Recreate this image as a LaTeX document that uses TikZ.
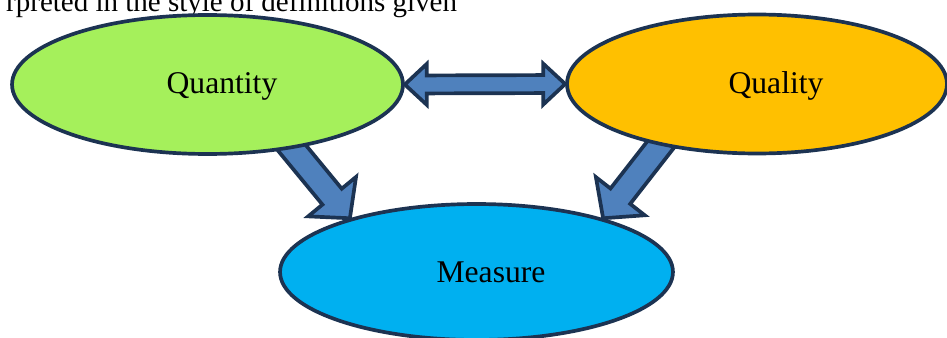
\documentclass[tikz,border=0pt]{standalone}
\usepackage{fontspec}
\setmainfont{Liberation Serif}
\usetikzlibrary{shapes.geometric,calc,backgrounds}
\definecolor{EdgeNavy}{HTML}{1C3352}
\definecolor{QuantGreen}{HTML}{A5F05B}
\definecolor{QualOrange}{HTML}{FFC000}
\definecolor{MeasBlue}{HTML}{00B0F0}
\definecolor{ArrowBlue}{HTML}{4F81BD}

% block arrow: from, to, shaft half width, head half width, head length
\newcommand{\blockarrow}[5]{%
  \coordinate (hd) at ($(#2)!#5!(#1)$);
  \draw[arrowbody] ($(#1)!#3!90:(#2)$) -- ($(hd)!#3!90:(#2)$) -- ($(hd)!#4!90:(#2)$) -- (#2)
    -- ($(hd)!#4!-90:(#2)$) -- ($(hd)!#3!-90:(#2)$) -- ($(#1)!#3!-90:(#2)$) -- cycle;}
% arrow with a head at both ends
\newcommand{\twinarrow}[5]{%
  \coordinate (ha) at ($(#1)!#5!(#2)$);
  \coordinate (hb) at ($(#2)!#5!(#1)$);
  \draw[arrowbody] (#1) -- ($(ha)!#4!90:(#2)$) -- ($(ha)!#3!90:(#2)$) -- ($(hb)!#3!90:(#2)$)
    -- ($(hb)!#4!90:(#2)$) -- (#2) -- ($(hb)!#4!-90:(#2)$) -- ($(hb)!#3!-90:(#2)$)
    -- ($(ha)!#3!-90:(#2)$) -- ($(ha)!#4!-90:(#2)$) -- cycle;}

\begin{document}
\begin{tikzpicture}[x=0.02cm, y=-0.02cm,
  blob/.style={ellipse, draw=EdgeNavy, line width=2.1pt, inner sep=0pt},
  arrowbody/.style={draw=EdgeNavy, fill=ArrowBlue, line width=2.1pt},
  lbl/.style={anchor=base, font=\fontsize{18}{22}\selectfont}]
  \clip (0,0) rectangle (947,338);
  \node[anchor=base west, font=\fontsize{16.5}{20}\selectfont] (cap) at (0,11.5)
    {rpreted in the style of definitions given};
  \node[blob, fill=QuantGreen, minimum width=7.82cm, minimum height=2.78cm] (q) at (207.5,84.5) {};
  \node[blob, fill=QualOrange, minimum width=7.6cm, minimum height=2.78cm] (l) at (757,84) {};
  \node[blob, fill=MeasBlue, minimum width=7.86cm, minimum height=2.72cm] (m) at (476.5,272) {};
  \node[lbl] (qtext) at (222,93) {Quantity};
  \node[lbl] (ltext) at (776,93) {Quality};
  \node[lbl] (mtext) at (491,282) {Measure};
  \coordinate (qfoot) at (278,131);
  \coordinate (lfoot) at (672,130);
  \begin{scope}[on background layer]
    \twinarrow{q.east}{l.west}{0.18cm}{0.41cm}{0.44cm}
    \blockarrow{qfoot}{m.157}{0.25cm}{0.62cm}{0.56cm}
    \blockarrow{lfoot}{m.23}{0.25cm}{0.62cm}{0.56cm}
  \end{scope}
\end{tikzpicture}
\end{document}
